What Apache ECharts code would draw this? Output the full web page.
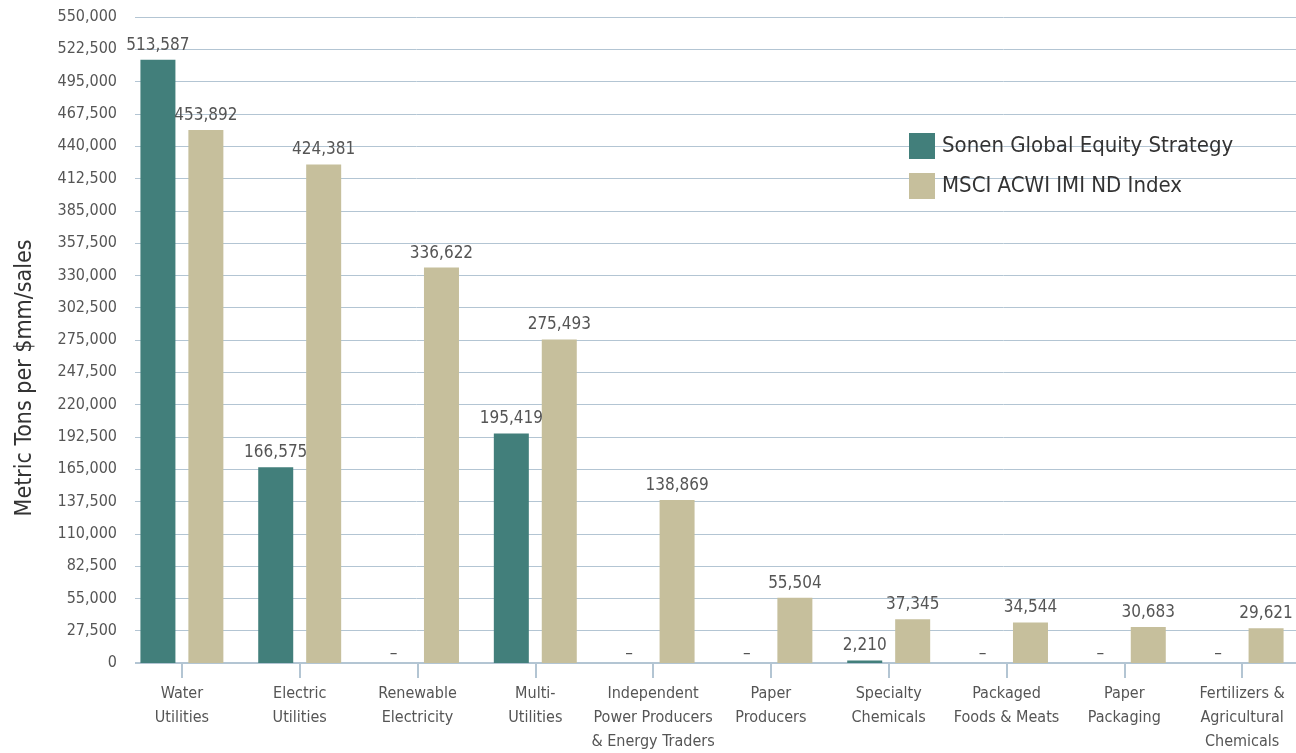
<!DOCTYPE html>
<html><head><meta charset="utf-8">
<script src="https://cdn.jsdelivr.net/npm/echarts@6/dist/echarts.min.js"></script>
<style>html,body{margin:0;padding:0;background:#fff}#c{width:1296px;height:753px}</style>
</head><body><div id="c"></div>
<script>
const categories = ["Water\nUtilities","Electric\nUtilities","Renewable\nElectricity","Multi-\nUtilities","Independent\nPower Producers\n& Energy Traders","Paper\nProducers","Specialty\nChemicals","Packaged\nFoods & Meats","Paper\nPackaging","Fertilizers &\nAgricultural\nChemicals"];
const sonen = [513587,166575,0,195419,0,0,2210,0,0,0];
const msci = [453892,424381,336622,275493,138869,55504,37345,34544,30683,29621];
const seriesNames = ["Sonen Global Equity Strategy","MSCI ACWI IMI ND Index"];
const yAxisTitle = "Metric Tons per $mm/sales";
const FONT = "'Liberation Sans Narrow','DejaVu Sans Condensed','Roboto Condensed',Roboto,sans-serif";
const fmt = v => v === 0 ? "–" : v.toLocaleString('en-US');
const chart = echarts.init(document.getElementById('c'));
const labelCfg = {show:true, position:'top', distance:6, color:'#555', fontSize:17, fontFamily:FONT, formatter:p=>fmt(p.value)};
const withDash = arr => arr.map(v => v === 0 ? {value:v, label:{offset:[0,5]}} : v);
chart.setOption({
  animation:false,
  textStyle:{fontFamily:FONT},
  grid:{left:123, top:17, width:1178, bottom:90, containLabel:false, outerBoundsMode:'none'},
  legend:{left:904, top:128, orient:'vertical', itemWidth:26, itemHeight:26, itemGap:14,
    icon:'rect', textStyle:{fontSize:22, color:'#333', fontFamily:FONT, padding:[0,0,0,2]},
    data:seriesNames},
  xAxis:{type:'category', data:categories,
    axisLine:{lineStyle:{color:'#b3c5d3', width:2}},
    axisTick:{show:true, alignWithLabel:true, length:15, lineStyle:{color:'#b3c5d3', width:2}},
    axisLabel:{color:'#555', fontSize:16, fontFamily:FONT, lineHeight:24, margin:19, interval:0}},
  yAxis:{type:'value', min:0, max:550000, interval:27500,
    axisLine:{show:false}, axisTick:{show:false},
    axisLabel:{color:'#555', fontSize:16, fontFamily:FONT, margin:6, formatter:v=>v.toLocaleString('en-US')},
    splitLine:{lineStyle:{color:'#b3c5d3', width:1}}},
  graphic:[
    {type:'rect', z:1, shape:{x:119, y:5, width:16, height:665}, style:{fill:'#fff'}},
    {type:'text', z:10, x:25, y:378, rotation:Math.PI/2,
      style:{text:yAxisTitle, fontSize:23, fill:'#333', fontFamily:FONT, align:'center', verticalAlign:'middle'}}
  ],
  series:[
    {name:seriesNames[0], type:'bar', z:2, data:withDash(sonen), barWidth:35, barGap:'37%', itemStyle:{color:'#427f7b'}, label:labelCfg},
    {name:seriesNames[1], type:'bar', z:2, data:msci, barWidth:35, itemStyle:{color:'#c6bf9c'}, label:labelCfg}
  ]
});
</script></body></html>
